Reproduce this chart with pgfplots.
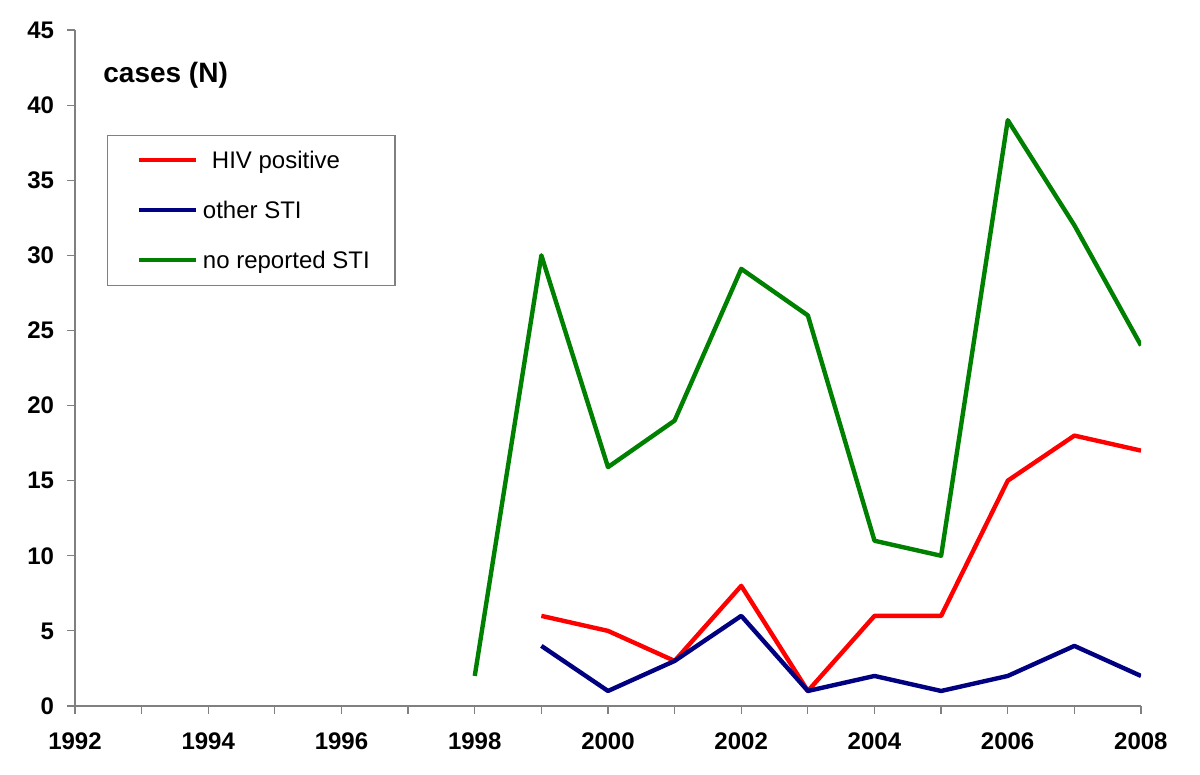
\documentclass[border=0pt]{standalone}
\usepackage{fontspec}
\setmainfont{Liberation Sans}
\usepackage{pgfplots}
\pgfplotsset{compat=1.18}
\definecolor{cred}{RGB}{255,0,0}
\definecolor{cblue}{RGB}{0,0,128}
\definecolor{cgreen}{RGB}{0,128,0}
\begin{document}
\begin{tikzpicture}
\useasboundingbox (-37.5bp,-34.5bp) rectangle (562.5bp,353bp);
\begin{axis}[
  at={(0,0)}, anchor=south west,
  scale only axis,
  width=533bp, height=338bp,
  xmin=1992, xmax=2008, ymin=0, ymax=45,
  axis x line=bottom, axis y line=left,
  axis line style={draw=gray, line width=0.6bp, -},
  tick style={draw=gray, line width=0.6bp},
  tick align=outside,
  major tick length=4bp,
  xtick={1992,...,2008},
  xticklabels={1992,,1994,,1996,,1998,,2000,,2002,,2004,,2006,,2008},
  ytick={0,5,...,45},
  /pgf/number format/assume math mode=true,
  ticklabel style={font=\fontsize{12bp}{14bp}\selectfont\bfseries},
  xticklabel style={yshift=-6bp},
  yticklabel style={xshift=-3bp},
  legend cell align=left,
  legend style={
    draw=gray, line width=0.6bp,
    at={(rel axis cs:0.0300,0.8447)}, anchor=north west,
    inner xsep=14.5bp, inner ysep=0pt,
    nodes={inner sep=0pt, text height=16.5bp, text depth=8.5bp},
    column sep=2.5bp, row sep=0pt,
    font=\fontsize{12bp}{14bp}\selectfont,
  },
  legend image code/.code={\draw[#1, line width=2.2bp] plot coordinates {(0bp,0.3bp) (28.5bp,0.3bp)};},
  every axis plot/.append style={line width=2.2bp, line join=round},
]
\addplot[cred] coordinates {(1999,6) (2000,5) (2001,3) (2002,8) (2003,1) (2004,6) (2005,6) (2006,15) (2007,18) (2008,17)};
\addlegendentry{\makebox[81.5bp][l]{\hspace{4.5bp}HIV positive}}
\addplot[cblue] coordinates {(1999,4) (2000,1) (2001,3) (2002,6) (2003,1) (2004,2) (2005,1) (2006,2) (2007,4) (2008,2)};
\addlegendentry{\makebox[81.5bp][l]{other STI}}
\addplot[cgreen] coordinates {(1998,2) (1999,30) (2000,15.9) (2001,19) (2002,29.1) (2003,26) (2004,11) (2005,10) (2006,39) (2007,32) (2008,24)};
\addlegendentry{\makebox[81.5bp][l]{no reported STI}}
\node[anchor=west, font=\fontsize{14bp}{16bp}\selectfont\bfseries, inner sep=0pt] at (axis cs:1992.42,42.0) {cases (N)};
\end{axis}
\end{tikzpicture}
\end{document}
